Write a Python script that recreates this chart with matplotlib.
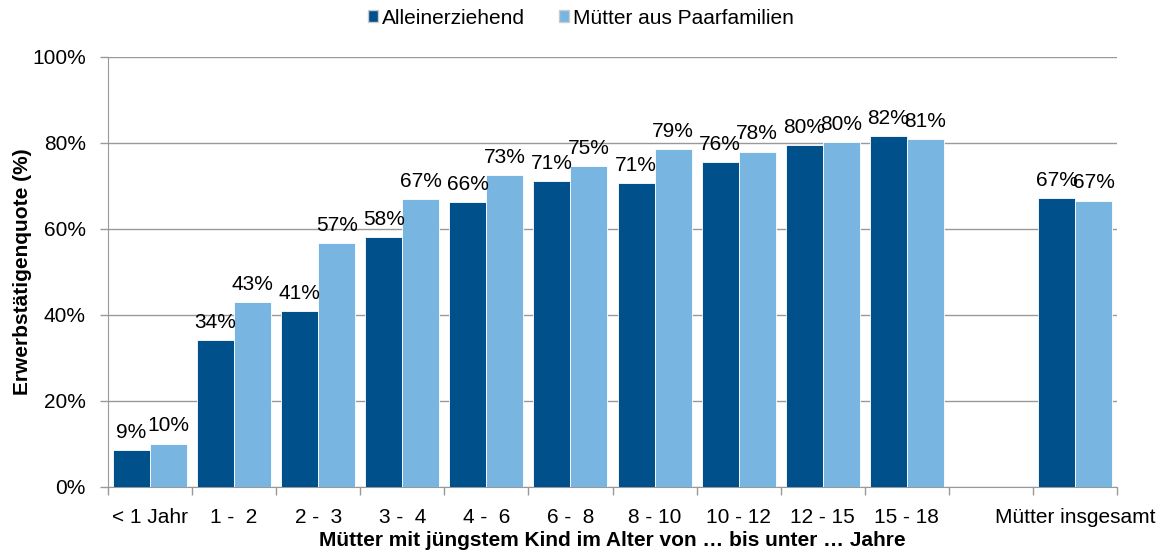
import matplotlib
matplotlib.use("Agg")
import matplotlib.pyplot as plt
import numpy as np
from matplotlib.patches import Patch

plt.rcParams['font.family'] = ['Liberation Sans', 'DejaVu Sans']

categories = ["< 1 Jahr", "1 -  2", "2 -  3", "3 -  4", "4 -  6", "6 -  8",
              "8 - 10", "10 - 12", "12 - 15", "15 - 18", "", "Mütter insgesamt"]
allein = [8.6, 34.2, 40.9, 58.2, 66.3, 71.2, 70.6, 75.6, 79.6, 81.6, None, 67.1]
paar = [10.1, 43.0, 56.8, 67.0, 72.6, 74.6, 78.5, 78.0, 80.3, 80.9, None, 66.6]
allein_labels = ["9%", "34%", "41%", "58%", "66%", "71%", "71%", "76%", "80%", "82%", "", "67%"]
paar_labels = ["10%", "43%", "57%", "67%", "73%", "75%", "79%", "78%", "80%", "81%", "", "67%"]

dark = "#00508C"
light = "#78B5E1"

W, H = 1163, 555
fig = plt.figure(figsize=(W / 100, H / 100), dpi=100)
ax = fig.add_axes([108 / W, 1 - 487 / H, (1117 - 108) / W, (487 - 57) / H])

x = np.arange(len(categories))
bw = 0.44
for i in range(len(categories)):
    if allein[i] is None:
        continue
    ax.bar(x[i] - bw / 2, allein[i], width=bw, color=dark, edgecolor="white", linewidth=0.6, zorder=3)
    ax.bar(x[i] + bw / 2, paar[i], width=bw, color=light, edgecolor="white", linewidth=0.6, zorder=3)
    ax.text(x[i] - bw / 2, allein[i] + 1.9, allein_labels[i], ha="center", va="bottom", fontsize=15, zorder=4)
    ax.text(x[i] + bw / 2, paar[i] + 1.9, paar_labels[i], ha="center", va="bottom", fontsize=15, zorder=4)

ax.set_xlim(-0.5, len(categories) - 0.5)
ax.set_ylim(0, 100)
ax.set_yticks(np.arange(0, 101, 20))
ax.set_yticklabels([f"{v}%" for v in range(0, 101, 20)], fontsize=15)
ax.yaxis.grid(True, color="#999999", linewidth=1, zorder=0)
ax.set_xticks(x)
ax.set_xticklabels(categories, fontsize=15)
ax.tick_params(axis="x", length=0, pad=15)
ax.set_xticks(np.arange(-0.5, len(categories), 1), minor=True)
ax.tick_params(axis="x", which="minor", length=6, color="#999999", width=1)
ax.tick_params(axis="y", length=6, color="#999999", width=1, pad=10)

for s in ["top", "right"]:
    ax.spines[s].set_visible(False)
ax.spines["left"].set_color("#999999")
ax.spines["bottom"].set_color("#999999")

ax.set_ylabel("Erwerbstätigenquote (%)", fontsize=15, fontweight="bold")
ax.set_xlabel("Mütter mit jüngstem Kind im Alter von … bis unter … Jahre", fontsize=15, fontweight="bold", labelpad=3)
ax.yaxis.set_label_coords(-76 / (1117 - 108), 0.5)

handles = [Patch(facecolor=dark, edgecolor="#cccccc"), Patch(facecolor=light, edgecolor="#cccccc")]
fig.legend(handles, ["Alleinerziehend", "Mütter aus Paarfamilien"], loc="center",
           bbox_to_anchor=(581 / W, 1 - 18 / H), ncol=2, frameon=False, fontsize=15,
           handlelength=0.5, handleheight=0.5, handletextpad=0.2, columnspacing=1.6)

fig.savefig("out.png", dpi=100)
